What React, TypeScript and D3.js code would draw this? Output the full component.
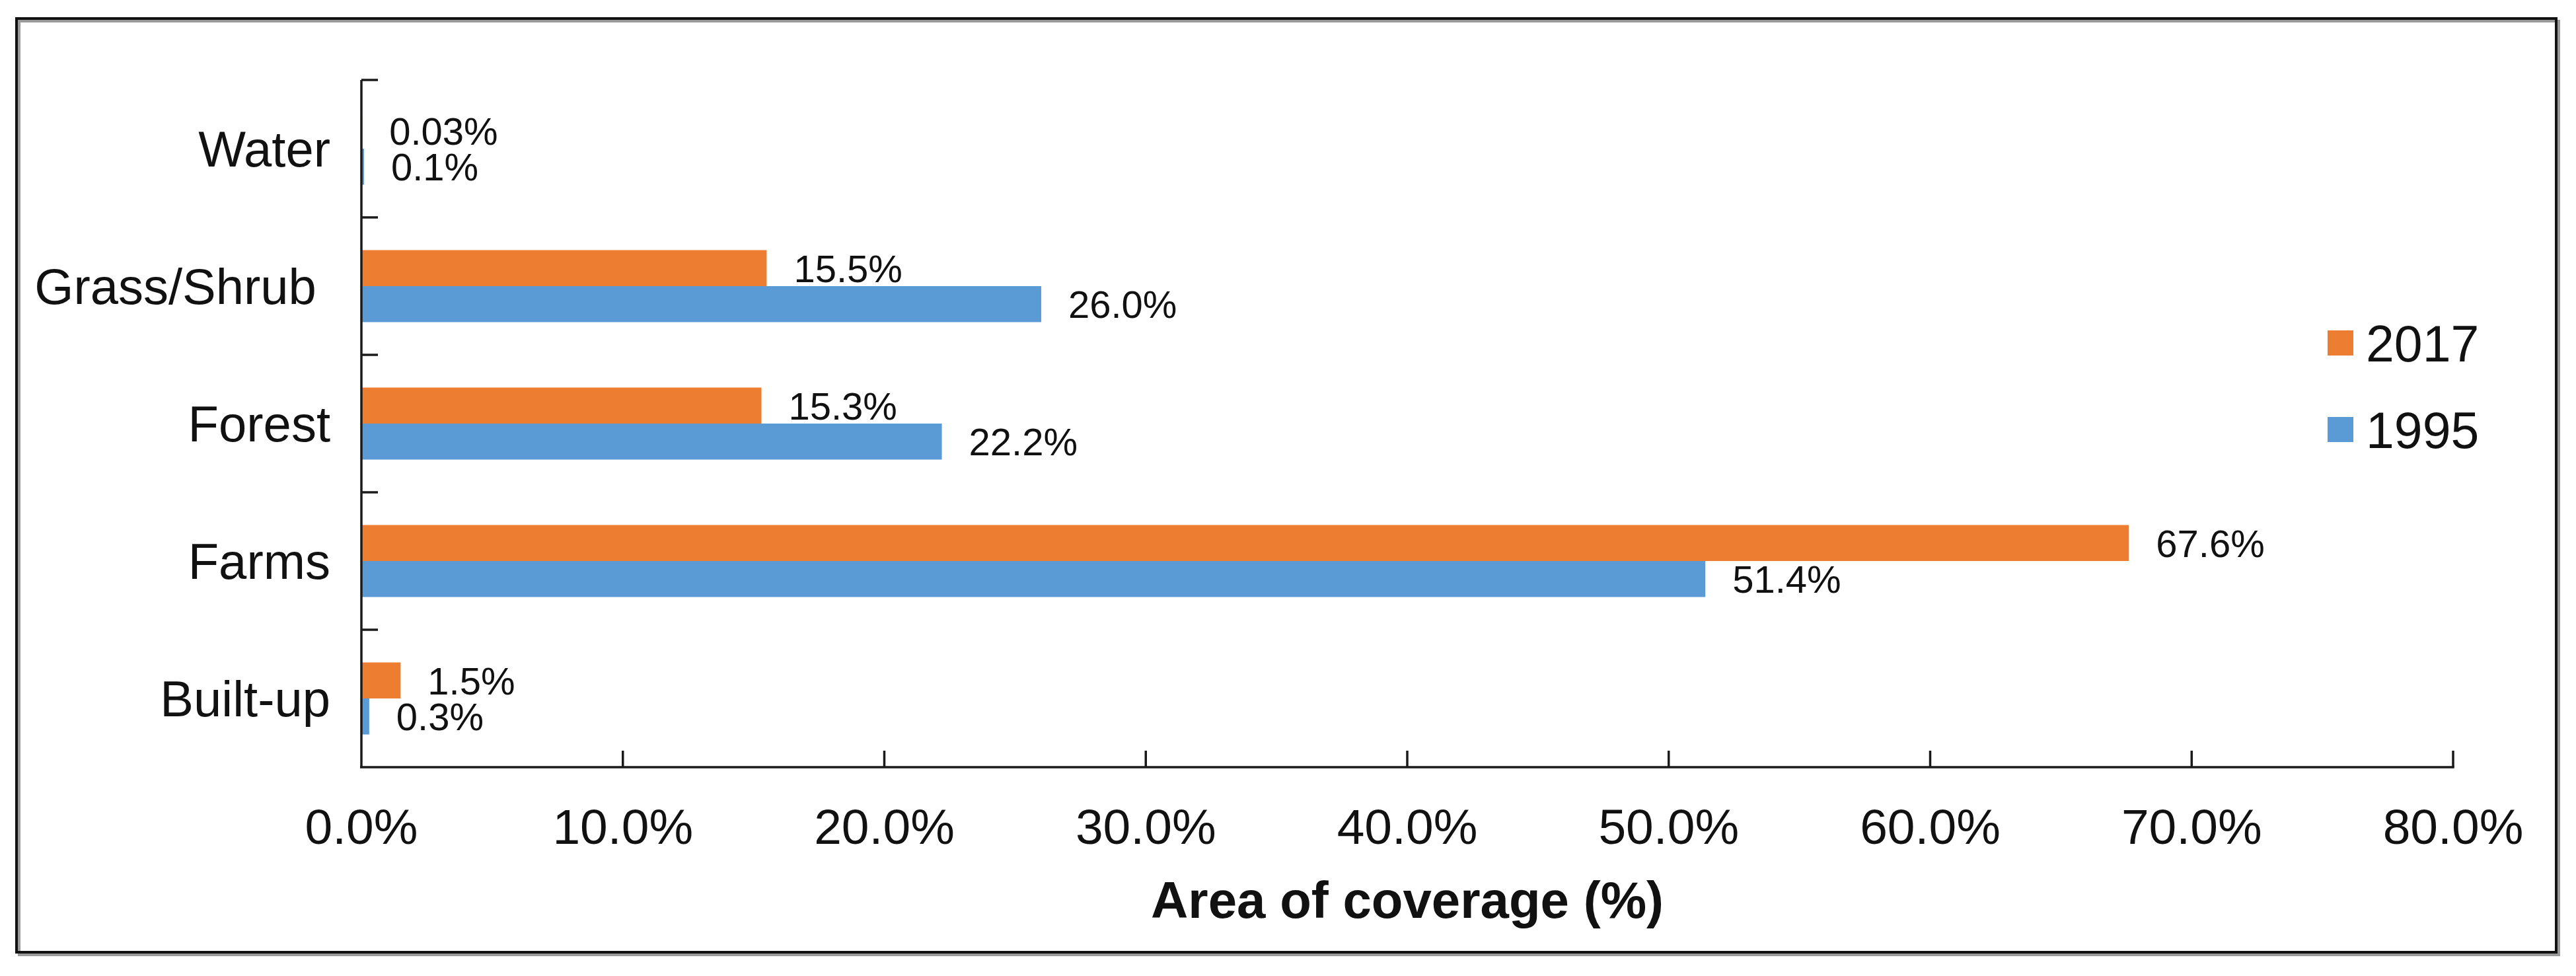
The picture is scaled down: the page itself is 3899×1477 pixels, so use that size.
import React from "react";
import * as d3 from "d3";

const categories = ["Water", "Grass/Shrub\u00A0", "Forest", "Farms", "Built-up"];
const seriesNames = ["2017", "1995"];
const values2017 = [0.03, 15.5, 15.3, 67.6, 1.5];
const values1995 = [0.1, 26.0, 22.2, 51.4, 0.3];
const xTicks = [0, 10, 20, 30, 40, 50, 60, 70, 80];
const colors = ["#ED7D31", "#5B9BD5"];

const W = 3899;
const H = 1477;
const FONT = "'Liberation Sans', Arial, Helvetica, sans-serif";

export default function App() {
  const x = d3.scaleLinear().domain([0, 80]).range([547, 3713]);
  const y = d3
    .scaleBand<string>()
    .domain(categories)
    .range([121, 1161])
    .paddingInner(0.476)
    .paddingOuter(0.238);
  const step = y.step();
  const sub = d3.scaleBand<string>().domain(seriesNames).range([0, y.bandwidth()]);
  const series = [values2017, values1995];
  const fmt = (v: number) => (v < 0.1 ? v.toFixed(2) : v.toFixed(1)) + "%";
  const tickFmt = (v: number) => d3.format(".1f")(v) + "%";
  const axisY = 1161;
  const axisColor = "#1a1a1a";
  const boundaries = d3.range(categories.length + 1).map((i) => 121 + i * step);

  return (
    <svg
      width={W}
      height={H}
      viewBox={`0 0 ${W} ${H}`}
      style={{ position: "absolute", left: 0, top: 0, background: "#fff" }}
    >
      <rect x={0} y={0} width={W} height={H} fill="#fff" />
      {/* outer frame with shadow */}
      <rect x={29} y={32} width={3844} height={1413} fill="none" stroke="#9a9a9a" strokeWidth={4} />
      <rect x={25} y={28} width={3844} height={1413} fill="none" stroke="#111" strokeWidth={4} />

      {/* bars */}
      {categories.map((c, i) =>
        series.map((vals, s) => {
          const by = (y(c) as number) + (sub(seriesNames[s]) as number);
          const bh = sub.bandwidth();
          const w = x(vals[i]) - x(0);
          return (
            <g key={c + s}>
              <rect x={x(0)} y={by} width={Math.max(w, 0)} height={bh} fill={colors[s]} />
              <text
                x={x(vals[i]) + 41}
                y={by + bh / 2 + 21}
                fontFamily={FONT}
                fontSize={58}
                fill="#111"
              >
                {fmt(vals[i])}
              </text>
            </g>
          );
        })
      )}

      {/* y axis */}
      <line x1={547} x2={547} y1={121} y2={axisY} stroke={axisColor} strokeWidth={3.5} />
      {boundaries.slice(0, -1).map((b, i) => (
        <line key={i} x1={547} x2={572} y1={b} y2={b} stroke={axisColor} strokeWidth={3.5} />
      ))}
      {categories.map((c) => (
        <text
          key={c}
          x={500}
          y={(y(c) as number) + y.bandwidth() / 2 + 27}
          textAnchor="end"
          fontFamily={FONT}
          fontSize={76}
          fill="#111"
        >
          {c}
        </text>
      ))}

      {/* x axis */}
      <line x1={545} x2={x(80) + 1.75} y1={axisY} y2={axisY} stroke={axisColor} strokeWidth={3.5} />
      {xTicks.map((t) => (
        <g key={t}>
          {t > 0 && (
            <line x1={x(t)} x2={x(t)} y1={axisY} y2={axisY - 25} stroke={axisColor} strokeWidth={3.5} />
          )}
          <text
            x={x(t)}
            y={1277}
            textAnchor="middle"
            fontFamily={FONT}
            fontSize={75}
            fill="#111"
          >
            {tickFmt(t)}
          </text>
        </g>
      ))}
      <text
        x={(x(0) + x(80)) / 2}
        y={1389}
        textAnchor="middle"
        fontFamily={FONT}
        fontSize={78}
        fontWeight="bold"
        fill="#111"
      >
        Area of coverage (%)
      </text>

      {/* legend */}
      {seriesNames.map((n, i) => {
        const cy = 519 + i * 131;
        return (
          <g key={n}>
            <rect x={3523} y={cy - 19} width={39} height={38} fill={colors[i]} />
            <text x={3581} y={cy + 28} fontFamily={FONT} fontSize={77} fill="#111">
              {n}
            </text>
          </g>
        );
      })}
    </svg>
  );
}
